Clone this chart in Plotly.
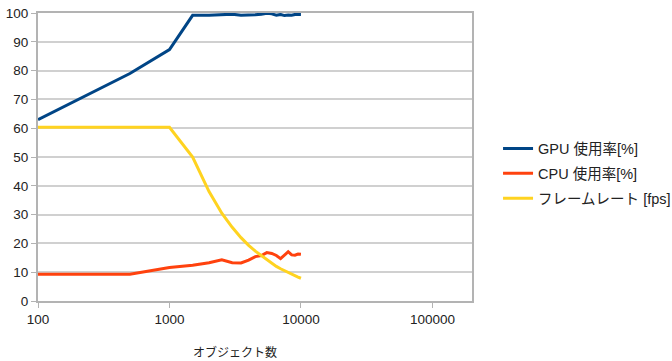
import plotly.graph_objects as go

objects = [100, 500, 1000, 1500, 2000, 2500, 3000, 3500, 4000, 4500, 5000,
           5500, 6000, 6500, 7000, 7500, 8000, 8500, 9000, 9500, 10000]
gpu = [63.0, 79.0, 87.3, 99.2, 99.2, 99.3, 99.6, 99.2, 99.2, 99.4, 99.6,
       99.9, 99.7, 99.2, 99.5, 99.1, 99.3, 99.2, 99.5, 99.4, 99.5]
cpu = [9.3, 9.3, 11.6, 12.4, 13.3, 14.3, 13.3, 13.2, 14.2, 15.4, 15.8,
       16.8, 16.5, 15.8, 14.7, 16.0, 17.1, 16.0, 15.9, 16.3, 16.2]
fps = [60.3, 60.3, 60.3, 50.0, 38.0, 30.5, 25.6, 22.0, 19.3, 17.3, 15.8,
       14.3, 13.0, 12.0, 11.2, 10.5, 9.9, 9.3, 8.8, 8.3, 7.9]

names = ["GPU 使用率[%]", "CPU 使用率[%]", "フレームレート [fps]"]
colors = ["#004586", "#ff420e", "#ffd320"]
xtick_vals = [100, 1000, 10000, 100000]
xtick_text = ["100", "1000", "10000", "100000"]
ytick_vals = list(range(0, 101, 10))

fig = go.Figure()
for i, (ys, name, col) in enumerate(zip([gpu, cpu, fps], names, colors)):
    fig.add_trace(go.Scatter(x=objects, y=ys, mode="lines", name=name,
                             legendgroup=str(i),
                             line=dict(color=col, width=3)))

font_fam = "Liberation Sans, Arial, Noto Sans CJK JP"
fig.update_layout(
    width=672, height=361,
    margin=dict(l=38, r=200, t=13, b=60, autoexpand=False),
    paper_bgcolor="white", plot_bgcolor="white",
    font=dict(family=font_fam, size=13, color="#222222"),
    showlegend=True,
    legend=dict(x=1.06, xanchor="left", y=0.585, yanchor="top",
                font=dict(family=font_fam, size=14.5, color="#222222"),
                traceorder="grouped", tracegroupgap=3,
                bgcolor="rgba(0,0,0,0)"),
    xaxis=dict(type="log", range=[2, 5.301], tickmode="array",
               tickvals=xtick_vals, ticktext=xtick_text, automargin=False,
               showgrid=False, showline=True, linecolor="#b3b3b3", linewidth=2,
               mirror=True, ticks="outside", ticklen=5, tickcolor="#b3b3b3",
               tickfont=dict(size=13.5, color="#222222"), zeroline=False),
    yaxis=dict(range=[0, 100], tickmode="array", tickvals=ytick_vals,
               automargin=False,
               showgrid=True, gridcolor="#d0d0d0", gridwidth=1.5,
               showline=True, linecolor="#b3b3b3", linewidth=2, mirror=True,
               ticks="outside", ticklen=5, tickcolor="#b3b3b3",
               tickfont=dict(size=13.5, color="#222222"), zeroline=False),
    annotations=[dict(text="オブジェクト数", x=0.454, xref="paper",
                      y=-0.177, yref="paper", yanchor="middle",
                      showarrow=False,
                      font=dict(family="Noto Sans CJK JP", size=12, color="#222222"))],
)

fig.write_html("out.html", config={"displayModeBar": False},
               post_script="document.body.style.margin='0';")
